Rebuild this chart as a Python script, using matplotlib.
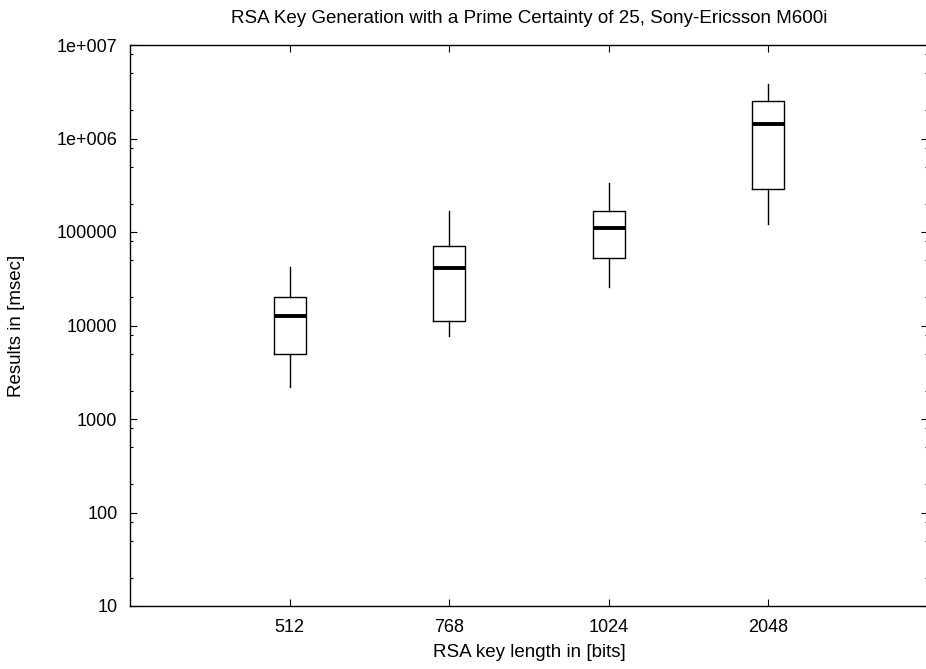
import matplotlib.pyplot as plt
from matplotlib.ticker import FixedLocator, NullFormatter

plt.rcParams['font.family'] = ['Liberation Sans', 'DejaVu Sans']

key_lengths = ['512', '768', '1024', '2048']
whisker_low = [2215, 7720, 26000, 121000]
box_low = [4920, 11250, 53100, 290000]
median = [12700, 40900, 110000, 1420000]
box_high = [20300, 70800, 169000, 2520000]
whisker_high = [41900, 169000, 336000, 3830000]

ytick_vals = [10, 100, 1000, 10000, 100000, 1e6, 1e7]
ytick_labels = ['10', '100', '1000', '10000', '100000', '1e+006', '1e+007']

fig = plt.figure(figsize=(9.26, 6.69), dpi=100)
# right border sits just past the picture edge, as in the original
ax = fig.add_axes([130 / 926, 63 / 669, 798 / 926, 561 / 669])

stats = []
for i in range(len(key_lengths)):
    stats.append({'whislo': whisker_low[i], 'q1': box_low[i], 'med': median[i],
                  'q3': box_high[i], 'whishi': whisker_high[i], 'fliers': []})

positions = list(range(1, len(key_lengths) + 1))
ax.bxp(stats, positions=positions, widths=0.2, showcaps=False,
       boxprops=dict(color='black', linewidth=1.0),
       whiskerprops=dict(color='black', linewidth=1.0),
       medianprops=dict(color='black', linewidth=2.8))

ax.set_yscale('log')
ax.set_ylim(10, 1e7)
ax.set_xlim(0, 5)
ax.set_xticks(positions)
ax.set_xticklabels(key_lengths)
ax.yaxis.set_major_locator(FixedLocator(ytick_vals))
ax.set_yticklabels(ytick_labels)
minor = [m * 10 ** e for e in range(1, 7) for m in (2, 5, 8)]
ax.yaxis.set_minor_locator(FixedLocator(minor))
ax.yaxis.set_minor_formatter(NullFormatter())

ax.tick_params(axis='both', which='major', direction='in', length=5.2, width=0.8,
               top=True, right=True, labelsize=13, pad=9)
ax.tick_params(axis='y', which='minor', direction='in', length=2.5, width=0.8,
               left=True, right=True)
ax.tick_params(axis='x', which='minor', bottom=False, top=False)
for s in ax.spines.values():
    s.set_linewidth(1.0)

ax.set_title('RSA Key Generation with a Prime Certainty of 25, Sony-Ericsson M600i',
             fontsize=13.5, pad=16)
ax.set_xlabel('RSA key length in [bits]', fontsize=13.5, labelpad=6)
ax.set_ylabel('Results in [msec]', fontsize=13.5)
ax.yaxis.set_label_coords(-105 / 798, 0.5)

fig.savefig('out.png', dpi=100)
